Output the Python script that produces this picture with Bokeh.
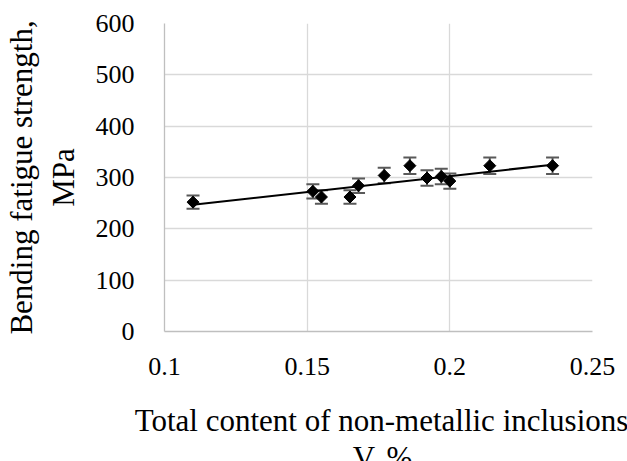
import math
from bokeh.plotting import figure
from bokeh.layouts import column
from bokeh.models import ColumnDataSource, Whisker, TeeHead, FixedTicker, Range1d, Plot
from bokeh.core.properties import value
from bokeh.embed import file_html
from bokeh.resources import INLINE

# Data
content_v = [0.110, 0.152, 0.155, 0.165, 0.168, 0.177, 0.186, 0.192, 0.197, 0.200, 0.214, 0.236]
strength_mpa = [252, 273, 262, 262, 284, 304, 323, 299, 302, 293, 323, 323]
error_mpa = [13, 14, 13, 13, 14, 15, 16, 15, 15, 15, 16, 16]
trend_x = [0.110, 0.236]
trend_y = [247, 325]
x_ticks = [0.10, 0.15, 0.20, 0.25]
x_tick_labels = ["0.1", "0.15", "0.2", "0.25"]
y_ticks = [0, 100, 200, 300, 400, 500, 600]
y_tick_labels = ["0", "100", "200", "300", "400", "500", "600"]
x_title_lines = ["Total content of non-metallic inclusions", "V, %"]
y_title = "Bending fatigue strength,\nMPa"

FONT = "Liberation Serif"
W = 627
CAN_UNALIGN = "frame_align" in Plot.properties()
H_MAIN = 397 if CAN_UNALIGN else 461
H_TITLE = 461 - H_MAIN

src = ColumnDataSource(data=dict(
    x=content_v,
    y=strength_mpa,
    upper=[v + e for v, e in zip(strength_mpa, error_mpa)],
    lower=[v - e for v, e in zip(strength_mpa, error_mpa)],
))

p = figure(width=W, height=H_MAIN, output_backend="svg", toolbar_location=None,
           title_location=None,
           x_range=Range1d(0.1, 0.25), y_range=Range1d(0, 600),
           min_border_left=163, min_border_right=35, min_border_top=23,
           min_border_bottom=H_MAIN - 331)
p.outline_line_color = None
p.background_fill_color = "white"
p.border_fill_color = "white"

# grid
p.xgrid.ticker = FixedTicker(ticks=x_ticks)
p.ygrid.ticker = FixedTicker(ticks=y_ticks)
for g in (p.xgrid, p.ygrid):
    g.grid_line_color = "#d9d9d9"
    g.grid_line_width = 1.3

# axes
p.xaxis.ticker = FixedTicker(ticks=x_ticks)
p.yaxis.ticker = FixedTicker(ticks=y_ticks)
p.xaxis.major_label_overrides = {t: l for t, l in zip(x_ticks, x_tick_labels)}
p.yaxis.major_label_overrides = {t: l for t, l in zip(y_ticks, y_tick_labels)}
for ax in (p.xaxis[0], p.yaxis[0]):
    ax.axis_line_color = "#bfbfbf"
    ax.axis_line_width = 1.3
    ax.major_tick_line_color = None
    ax.minor_tick_line_color = None
    ax.major_tick_out = 0
    ax.major_tick_in = 0
    ax.major_label_text_font = FONT
    ax.major_label_text_font_size = "26px"
    ax.major_label_text_font_style = "normal"
    ax.major_label_text_color = "#000000"
    ax.axis_label_text_font = FONT
    ax.axis_label_text_font_size = "31px"
    ax.axis_label_text_font_style = "normal"
    ax.axis_label_text_color = "#000000"

p.yaxis.axis_label = y_title
p.xaxis.major_label_standoff = 26
p.yaxis.major_label_standoff = 30
p.yaxis.axis_label_standoff = 12

# trend line
p.line(trend_x, trend_y, line_color="black", line_width=2)

# error bars
wh = Whisker(source=src, base="x", upper="upper", lower="lower",
             line_color="#595959", line_width=2,
             upper_head=TeeHead(size=13, line_color="#595959", line_width=2),
             lower_head=TeeHead(size=13, line_color="#595959", line_width=2))
p.add_layout(wh)

# markers (diamonds)
p.scatter("x", "y", source=src, marker="square", size=8.5, angle=math.pi / 4,
          fill_color="black", line_color="black")

if CAN_UNALIGN:
    p.frame_align = False
    # x-axis title strip (pixel coordinates, y grows downward)
    t = figure(width=W, height=H_TITLE, output_backend="svg", toolbar_location=None,
               title_location=None,
               x_range=Range1d(0, W), y_range=Range1d(H_TITLE, 0),
               x_axis_type=None, y_axis_type=None,
               min_border=0, min_border_left=0, min_border_right=0,
               min_border_top=0, min_border_bottom=0)
    t.frame_align = False
    t.outline_line_color = None
    t.grid.visible = False
    t.background_fill_color = "white"
    t.border_fill_color = "white"
    t.text(x=[381, 382], y=[23, 60], text=x_title_lines,
           text_font=value(FONT), text_font_size="31px", text_color="#000000",
           text_align="center", text_baseline="alphabetic")
    out = column(p, t, spacing=0)
else:
    p.xaxis.axis_label = "\n".join(x_title_lines)
    p.xaxis.axis_label_text_line_height = 1.1
    p.xaxis.major_label_standoff = 30
    p.xaxis.axis_label_standoff = 2
    out = p

open("out.html", "w").write(file_html(out, INLINE))
